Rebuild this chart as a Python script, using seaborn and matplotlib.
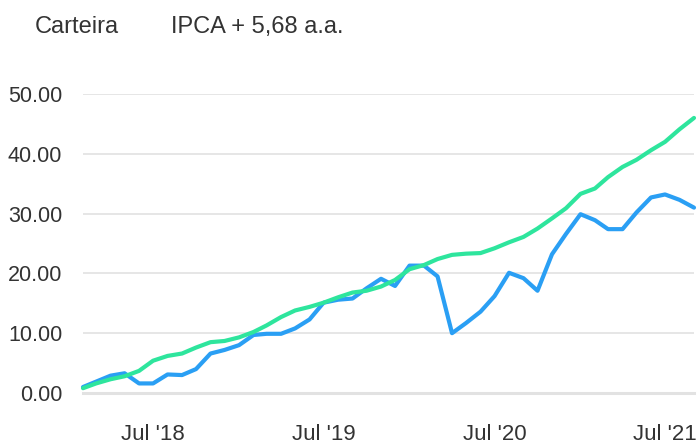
import pandas as pd
import matplotlib
matplotlib.use("Agg")
import matplotlib.pyplot as plt
import matplotlib.dates as mdates
import seaborn as sns

# monthly points, Feb 2018 .. Sep 2021
meses = pd.date_range("2018-02-01", "2021-09-01", freq="MS")

carteira = [1.0, 1.9, 2.9, 3.3, 1.6, 1.6, 3.1, 3.0, 4.0, 6.6, 7.2, 8.0,
            9.7, 9.9, 9.9, 10.8, 12.3, 15.1, 15.6, 15.8, 17.5, 19.1, 17.9, 21.3,
            21.3, 19.5, 10.0, 11.7, 13.6, 16.2, 20.1, 19.2, 17.1, 23.2, 26.6, 29.9,
            28.9, 27.4, 27.4, 30.2, 32.7, 33.2, 32.3, 31.0]

ipca = [0.8, 1.6, 2.3, 2.8, 3.7, 5.4, 6.2, 6.6, 7.6, 8.5, 8.7, 9.3,
        10.2, 11.3, 12.7, 13.8, 14.4, 15.1, 16.0, 16.8, 17.1, 17.8, 18.9, 20.7,
        21.4, 22.4, 23.1, 23.3, 23.4, 24.2, 25.2, 26.1, 27.5, 29.2, 30.9, 33.3,
        34.2, 36.1, 37.8, 39.0, 40.6, 42.0, 44.1, 46.0]

series = ["Carteira", "IPCA + 5,68 a.a."]
cores = {"Carteira": "#2a9ff4", "IPCA + 5,68 a.a.": "#2ee59d"}
xticks = pd.to_datetime(["2018-07-01", "2019-07-01", "2020-07-01", "2021-07-01"])
yticks = [0, 10, 20, 30, 40, 50]

df = pd.DataFrame({
    "data": list(meses) * 2,
    "valor": carteira + ipca,
    "serie": [series[0]] * len(meses) + [series[1]] * len(meses),
})

sns.set_style("white")
plt.rcParams["font.family"] = ["Liberation Sans", "DejaVu Sans"]

fig = plt.figure(figsize=(6.97, 4.46), dpi=100)
ax = fig.add_axes([83 / 697, 1 - 393 / 446, (694 - 83) / 697, (393 - 94) / 446])

sns.lineplot(data=df, x="data", y="valor", hue="serie", hue_order=series,
             palette=cores, linewidth=3, ax=ax, clip_on=False)

ax.set_xlim(meses[0], meses[-1])
ax.set_ylim(0, 50)
ax.set_xticks(xticks)
ax.xaxis.set_major_formatter(mdates.DateFormatter("%b '%y"))
ax.set_yticks(yticks)
ax.set_yticklabels([f"{v:.2f}" for v in yticks])
ax.set_xlabel("")
ax.set_ylabel("")

ax.grid(axis="y", color="#e2e2e2", linewidth=1.2)
ax.set_axisbelow(True)
for s in ["top", "right", "left"]:
    ax.spines[s].set_visible(False)
ax.spines["bottom"].set_color("#e2e2e2")
ax.spines["bottom"].set_linewidth(2.2)

ax.tick_params(axis="y", length=0, pad=15, labelsize=15.5, labelcolor="#333333")
ax.tick_params(axis="x", length=10, width=1.2, color="#d8d8d8", pad=12,
               labelsize=16, labelcolor="#333333")

handles, labels = ax.get_legend_handles_labels()
for h in handles:
    h.set_visible(False)
leg = fig.legend(handles, labels, loc="upper left",
                 bbox_to_anchor=(35 / 697, 1 - 16 / 446), ncol=2, frameon=False,
                 handlelength=0, handletextpad=0, columnspacing=2.2,
                 borderpad=0, borderaxespad=0, fontsize=17)
for t in leg.get_texts():
    t.set_color("#333333")
if ax.get_legend():
    ax.get_legend().remove()

fig.savefig("out.png", dpi=100)
